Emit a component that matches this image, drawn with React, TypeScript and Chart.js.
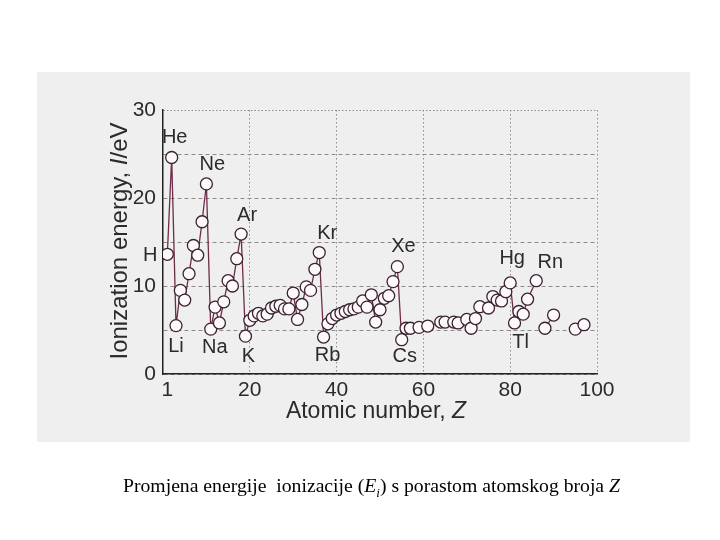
import React, { useEffect, useRef } from 'react';
import { Chart, registerables } from 'chart.js';

Chart.register(...registerables);

// ---- data (atomic number Z, first ionization energy in eV; null = break in line) ----
const atomicNumbers = [
  1, 2, 3, 4, 5, 6, 7, 8, 9, 10,
  11, 12, 13, 14, 15, 16, 17, 18, 19, 20,
  21, 22, 23, 24, 25, 26, 27, 28, 29, 30,
  31, 32, 33, 34, 35, 36, 37, 38, 39, 40,
  41, 42, 43, 44, 45, 46, 47, 48, 49, 50,
  51, 52, 53, 54, 55, 56, 57, 59, 61, 64,
  65, 67, 68, 70, 71, 72, 73, 75, 76, 77,
  78, 79, 80, 81, 82, 83, 84, 86, 87, 88,
  90, 92, 95, 97,
];
const ionizationEnergies: (number | null)[] = [
  13.6, 24.6, 5.5, 9.5, 8.4, 11.4, 14.6, 13.5, 17.3, 21.6,
  5.1, 7.6, 5.8, 8.2, 10.6, 10.0, 13.1, 15.9, 4.3, 6.1,
  6.6, 6.9, 6.6, 6.8, 7.5, 7.7, 7.8, 7.4, 7.4, 9.2,
  6.2, 7.9, 9.9, 9.5, 11.9, 13.8, 4.2, 5.7, 6.3, 6.7,
  6.9, 7.1, 7.3, 7.4, 7.6, 8.3, 7.6, 9.0, 5.9, 7.3,
  8.6, 8.9, 10.5, 12.2, 3.9, 5.2, 5.2, 5.3, 5.45, 5.9,
  5.9, 5.9, 5.8, 6.2, 5.2, 6.3, 7.65, 7.5, 8.8, 8.4,
  8.3, 9.35, 10.35, 5.8, 7.1, 6.8, 8.5, 10.6, null, 5.2,
  6.7, null, 5.1, 5.6,
];
const labelledSymbols = ['H', 'He', 'Li', 'Ne', 'Na', 'Ar', 'K', 'Kr', 'Rb', 'Xe', 'Cs', 'Hg', 'Tl', 'Rn'];
const labelledZ = [1, 2, 3, 10, 11, 18, 19, 36, 37, 54, 55, 80, 81, 86];
const xTickValues = [1, 20, 40, 60, 80, 100];
const yTickValues = [0, 10, 20, 30];

// ---- styling ----
const SANS = '"Liberation Sans", Arial, Helvetica, sans-serif';
const TEXT = '#2b2b2b';
const LINE = '#6e2c48';
const MARK_EDGE = '#3a2230';
const GRID = '#8c8c8c';
const LABEL_OFFSETS: Record<string, [number, number]> = {
  H: [-17, 1], He: [3, -20], Li: [0, 21], Ne: [6, -19], Na: [4, 18], Ar: [6, -19], K: [3, 20],
  Kr: [8, -19], Rb: [4, 18], Xe: [6, -20], Cs: [3, 17], Hg: [2, -24], Tl: [6, 20], Rn: [14, -18],
};

const annotationPlugin = {
  id: 'annotations',
  afterDraw(chart: any) {
    const { ctx, scales } = chart;
    const xs = scales.x;
    const ys = scales.y;
    ctx.save();
    ctx.fillStyle = TEXT;
    // element labels
    ctx.font = `20px ${SANS}`;
    ctx.textAlign = 'center';
    ctx.textBaseline = 'middle';
    labelledSymbols.forEach((sym, i) => {
      const z = labelledZ[i];
      const idx = atomicNumbers.indexOf(z);
      const e = ionizationEnergies[idx];
      if (e == null) return;
      const [dx, dy] = LABEL_OFFSETS[sym] || [0, 0];
      ctx.fillText(sym, xs.getPixelForValue(z) + dx, ys.getPixelForValue(e) + dy);
    });

    // x axis title: "Atomic number, Z"
    ctx.textAlign = 'left';
    ctx.textBaseline = 'alphabetic';
    const xa = 'Atomic number, ';
    const xb = 'Z';
    ctx.font = `23px ${SANS}`;
    const wa = ctx.measureText(xa).width;
    ctx.font = `italic 23px ${SANS}`;
    const wb = ctx.measureText(xb).width;
    const xCenter = 376;
    const sx = xCenter - (wa + wb) / 2;
    ctx.font = `23px ${SANS}`;
    ctx.fillText(xa, sx, 418);
    ctx.font = `italic 23px ${SANS}`;
    ctx.fillText(xb, sx + wa, 418);

    // y axis title: "Ionization energy, I/eV"
    ctx.translate(127, 241);
    ctx.rotate(-Math.PI / 2);
    const ya = 'Ionization energy, ';
    const yb = 'I';
    const yc = '/eV';
    ctx.font = `24px ${SANS}`;
    const w1 = ctx.measureText(ya).width;
    const w3 = ctx.measureText(yc).width;
    ctx.font = `italic 24px ${SANS}`;
    const w2 = ctx.measureText(yb).width;
    const sy = -(w1 + w2 + w3) / 2;
    ctx.font = `24px ${SANS}`;
    ctx.fillText(ya, sy, 0);
    ctx.font = `italic 24px ${SANS}`;
    ctx.fillText(yb, sy + w1, 0);
    ctx.font = `24px ${SANS}`;
    ctx.fillText(yc, sy + w1 + w2, 0);
    ctx.restore();
  },
};

export default function App() {
  const canvasRef = useRef<HTMLCanvasElement | null>(null);

  useEffect(() => {
    if (!canvasRef.current) return;
    const points = atomicNumbers.map((z, i) => ({ x: z, y: ionizationEnergies[i] }));
    const chart = new Chart(canvasRef.current, {
      type: 'line',
      data: {
        datasets: [
          {
            data: points as any,
            borderColor: LINE,
            borderWidth: 1.3,
            pointRadius: 6,
            pointBackgroundColor: '#fdf8fa',
            pointBorderColor: MARK_EDGE,
            pointBorderWidth: 1.3,
            tension: 0,
            spanGaps: false,
            fill: false,
          },
        ],
      },
      options: {
        animation: false,
        responsive: false,
        maintainAspectRatio: false,
        layout: { padding: { left: 100, right: 123, top: 110, bottom: 126 } },
        plugins: { legend: { display: false }, tooltip: { enabled: false }, title: { display: false } },
        scales: {
          x: {
            type: 'linear',
            min: 0,
            max: 100,
            afterBuildTicks: (s: any) => {
              s.ticks = xTickValues.map((v) => ({ value: v }));
            },
            afterFit: (s: any) => {
              s.height = 40;
            },
            ticks: {
              autoSkip: false,
              maxRotation: 0,
              padding: 4,
              color: TEXT,
              font: { family: SANS, size: 21 },
              callback: (v: any) => String(v),
            },
            grid: {
              drawTicks: false,
              lineWidth: 1,
              color: (c: any) => (c.tick && c.tick.value === 1 ? 'rgba(0,0,0,0)' : GRID),
            },
            border: { color: '#222', width: 1.5, dash: [1.5, 2.5] },
          },
          y: {
            type: 'linear',
            min: 0,
            max: 30,
            ticks: {
              stepSize: 5,
              padding: 7,
              color: TEXT,
              font: { family: SANS, size: 21 },
              callback: (v: any) => (yTickValues.includes(Number(v)) ? String(v) : ''),
            },
            afterFit: (s: any) => {
              s.width = 63;
            },
            grid: { drawTicks: false, lineWidth: 1, color: GRID },
            border: { color: '#222', width: 1.5, dash: (c: any) => (c.tick && c.tick.value === 30 ? [1.5, 2] : [4, 3]) },
          },
        },
      },
      plugins: [annotationPlugin],
    });
    return () => chart.destroy();
  }, []);

  return (
    <div style={{ position: 'fixed', left: 0, top: 0, width: 720, height: 540, background: '#ffffff', overflow: 'hidden' }}>
      <div style={{ position: 'absolute', left: 37, top: 72, width: 653, height: 370, background: '#efefef' }} />
      <canvas ref={canvasRef} width={720} height={540} style={{ position: 'absolute', left: 0, top: 0, width: 720, height: 540 }} />
      <div
        style={{
          position: 'absolute',
          left: 123,
          top: 475,
          fontFamily: '"Liberation Serif", "Times New Roman", serif',
          fontSize: 19.7,
          lineHeight: '20px',
          whiteSpace: 'pre',
          color: '#000',
        }}
      >
        Promjena energije  ionizacije (<i>E</i><sub style={{ fontSize: 13 }}><i>i</i></sub>) s porastom atomskog broja <i>Z</i>
      </div>
    </div>
  );
}
